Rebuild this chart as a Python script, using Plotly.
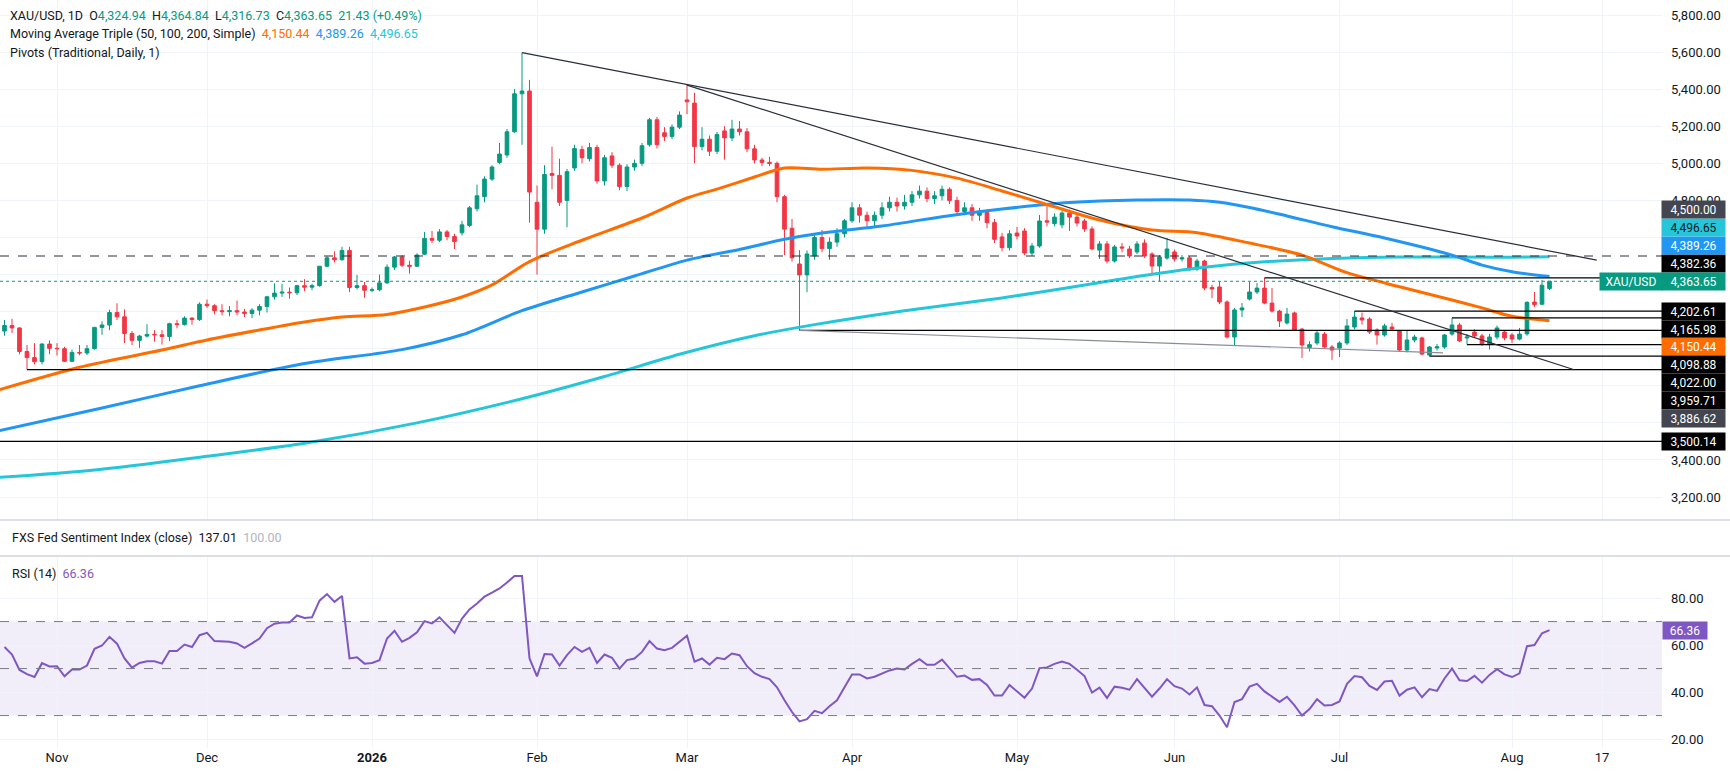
import pandas as pd
import plotly.graph_objects as go

# daily bars: weekdays, no bar on Christmas day
dates = pd.bdate_range("2025-10-23", "2026-08-10")
dates = dates[dates != pd.Timestamp("2025-12-25")]

opens = [
    4095, 4125, 4112, 3985, 3952, 3930, 4025, 4002, 4000, 3932,
    3980, 3977, 4000, 4115, 4128, 4195, 4172, 4082, 4045, 4068,
    4077, 4075, 4066, 4135, 4130, 4165, 4157, 4240, 4232, 4205,
    4200, 4205, 4198, 4190, 4208, 4228, 4280, 4300, 4305, 4302,
    4340, 4332, 4340, 4445, 4490, 4480, 4530, 4330, 4340, 4315,
    4318, 4355, 4440, 4495, 4450, 4445, 4510, 4595, 4585, 4630,
    4605, 4625, 4665, 4755, 4820, 4915, 5005, 5045, 5170, 5375,
    5390, 4790, 4645, 4945, 4935, 4800, 4975, 5075, 5025, 5085,
    4905, 5040, 4990, 4875, 4980, 5000, 5100, 5235, 5165, 5145,
    5195, 5342, 5325, 5090, 5130, 5065, 5175, 5137, 5185, 5170,
    5078, 5018, 5005, 5000, 4820, 4650, 4457, 4398, 4500, 4600,
    4540, 4575, 4620, 4690, 4760, 4720, 4690, 4720, 4760, 4790,
    4770, 4790, 4830, 4850, 4810, 4825, 4860, 4800, 4740, 4760,
    4720, 4735, 4680, 4603, 4545, 4624, 4635, 4516, 4554, 4690,
    4675, 4668, 4732, 4710, 4689, 4646, 4532, 4565, 4473, 4549,
    4538, 4522, 4570, 4511, 4446, 4489, 4522, 4484, 4490, 4430,
    4473, 4330, 4333, 4252, 4063, 4209, 4268, 4306, 4327, 4246,
    4203, 4139, 4193, 4106, 4005, 4031, 4079, 4009, 4004, 4031,
    4117, 4166, 4160, 4101, 4074, 4117, 4095, 3993, 4047, 4058,
    3966, 4004, 4009, 4079, 4128, 4058, 4090, 4069, 4022, 4063,
    4090, 4074, 4052, 4080, 4252, 4240, 4324.94,
]
highs = [
    4155, 4161, 4115, 4020, 4030, 4030, 4045, 4030, 4010, 3995,
    4020, 4020, 4118, 4148, 4210, 4245, 4212, 4095, 4075, 4132,
    4100, 4100, 4140, 4155, 4175, 4170, 4250, 4265, 4240, 4240,
    4230, 4260, 4215, 4218, 4240, 4285, 4353, 4350, 4330, 4345,
    4375, 4350, 4445, 4498, 4525, 4550, 4550, 4398, 4360, 4330,
    4400, 4455, 4500, 4505, 4475, 4515, 4630, 4635, 4645, 4640,
    4620, 4690, 4770, 4885, 4930, 4990, 5110, 5185, 5400, 5597,
    5450, 4880, 4990, 5090, 5025, 4970, 5100, 5095, 5110, 5100,
    5045, 5060, 5000, 4995, 5020, 5110, 5245, 5250, 5195, 5210,
    5280, 5422, 5380, 5195, 5150, 5170, 5200, 5235, 5228, 5190,
    5100, 5030, 5035, 5010, 4830, 4700, 4532, 4530, 4620, 4640,
    4600, 4650, 4700, 4790, 4780, 4740, 4740, 4790, 4820, 4815,
    4830, 4850, 4880, 4870, 4850, 4880, 4870, 4820, 4790, 4780,
    4760, 4750, 4700, 4625, 4640, 4657, 4650, 4570, 4721, 4775,
    4730, 4745, 4750, 4720, 4700, 4660, 4580, 4580, 4560, 4570,
    4555, 4580, 4590, 4520, 4505, 4597, 4535, 4505, 4500, 4485,
    4480, 4345, 4360, 4260, 4220, 4246, 4360, 4354, 4382.36, 4327,
    4210, 4220, 4200, 4110, 4040, 4095, 4090, 4020, 4040, 4160,
    4202.61, 4195, 4170, 4110, 4135, 4139, 4100, 4101, 4075, 4065,
    4015, 4025, 4080, 4165.98, 4140, 4080, 4105, 4080, 4080, 4125,
    4100, 4085, 4112, 4256, 4306, 4371, 4364.84,
]
lows = [
    4070, 4085, 3970, 3886.62, 3915, 3915, 3970, 3963, 3928, 3930,
    3965, 3965, 3995, 4075, 4100, 4155, 4030, 4020, 4005, 4060,
    4038, 4022, 4040, 4110, 4125, 4130, 4150, 4220, 4185, 4180,
    4175, 4180, 4170, 4165, 4180, 4195, 4265, 4280, 4270, 4290,
    4310, 4315, 4335, 4440, 4465, 4475, 4305, 4320, 4275, 4305,
    4310, 4350, 4425, 4440, 4405, 4440, 4505, 4570, 4575, 4585,
    4538, 4610, 4655, 4740, 4790, 4905, 4995, 5030, 5165, 5100,
    4680, 4400, 4620, 4860, 4770, 4655, 4960, 5000, 5010, 4890,
    4880, 4975, 4855, 4850, 4960, 4985, 5090, 5080, 5120, 5130,
    5185, 5265, 5000, 5070, 5040, 5050, 5020, 5120, 5150, 5060,
    5000, 4985, 4985, 4790, 4505, 4470, 4098.88, 4305, 4480, 4520,
    4480, 4550, 4600, 4680, 4680, 4650, 4660, 4700, 4740, 4740,
    4750, 4770, 4810, 4790, 4780, 4800, 4780, 4720, 4720, 4690,
    4690, 4650, 4570, 4525, 4530, 4590, 4505, 4500, 4545, 4660,
    4660, 4650, 4635, 4660, 4630, 4530, 4484, 4460, 4465, 4520,
    4490, 4510, 4490, 4398, 4365, 4480, 4470, 4470, 4420, 4420,
    4315, 4273, 4240, 4055, 4020, 4171, 4260, 4295, 4240, 4195,
    4117, 4130, 4095, 3950, 3985, 4020, 4000, 3940, 3955, 4020,
    4105, 4130, 4080, 4022, 4065, 4095, 3985, 3980, 4035, 3965,
    3959.71, 3990, 4000, 4070, 4035, 4022, 4060, 4015, 3995, 4050,
    4045, 4031, 4045, 4070, 4225, 4235, 4316.73,
]
closes = [
    4125, 4112, 3985, 3952, 3930, 4025, 4002, 4000, 3932, 3980,
    3977, 4000, 4115, 4128, 4195, 4172, 4082, 4045, 4068, 4077,
    4075, 4066, 4135, 4130, 4165, 4157, 4240, 4232, 4205, 4200,
    4205, 4198, 4190, 4208, 4228, 4280, 4300, 4305, 4302, 4340,
    4332, 4340, 4445, 4490, 4480, 4530, 4330, 4340, 4315, 4318,
    4355, 4440, 4495, 4450, 4445, 4505, 4595, 4585, 4630, 4605,
    4578, 4668, 4760, 4825, 4915, 4980, 5050, 5170, 5375, 5390,
    4845, 4645, 4940, 4935, 4790, 4955, 5080, 5030, 5085, 4905,
    5030, 4990, 4875, 4980, 5000, 5095, 5235, 5100, 5145, 5195,
    5260, 5332, 5090, 5130, 5065, 5155, 5137, 5185, 5170, 5078,
    5018, 5005, 5000, 4820, 4645, 4490, 4398, 4511, 4600, 4540,
    4575, 4620, 4690, 4760, 4720, 4690, 4720, 4760, 4790, 4770,
    4790, 4830, 4850, 4810, 4825, 4860, 4800, 4740, 4760, 4720,
    4735, 4680, 4590, 4545, 4620, 4608, 4516, 4554, 4689, 4683,
    4710, 4732, 4710, 4678, 4646, 4538, 4565, 4473, 4549, 4543,
    4500, 4565, 4500, 4446, 4495, 4538, 4484, 4490, 4430, 4473,
    4327, 4322, 4252, 4063, 4209, 4220, 4306, 4327, 4246, 4203,
    4149, 4187, 4101, 4020, 4022, 4085, 4009, 3993, 4031, 4123,
    4171, 4155, 4090, 4074, 4123, 4106, 3993, 4047, 4063, 3971,
    4009, 4010, 4074, 4128, 4042, 4063, 4069, 4025, 4063, 4112,
    4058, 4052, 4079, 4250, 4238, 4342.22, 4363.65,
]

rsi = [
    59.2, 56, 49.4, 47.6, 46.4, 52.3, 50.9, 51, 46.7, 49.6,
    49.6, 51.3, 58.4, 59.8, 63.5, 60.6, 54.3, 50.4, 52.4, 53.1,
    53.1, 52.1, 57.5, 57.5, 60.2, 59.2, 64.2, 65.2, 61.7, 61.4,
    61.4, 60.7, 58.8, 60.7, 62.8, 67.2, 69.1, 69.6, 69.6, 72.6,
    71.5, 71.8, 78.9, 81.7, 78.4, 80.9, 54.3, 54.8, 52.1, 52.4,
    53.6, 62.8, 66.1, 61.4, 63.1, 65.4, 70.2, 69.2, 71.8, 68.5,
    65.2, 71.3, 75.2, 77.7, 80.6, 82.3, 84.1, 86.6, 89.4, 89.4,
    54.3, 46.7, 56.2, 56, 51.3, 55.7, 59.2, 57.1, 58.8, 52.4,
    56, 54.6, 50, 53.6, 54.3, 57.1, 61.7, 58.5, 57.8, 58.8,
    61.4, 64, 52.9, 54.3, 51.7, 54.6, 54, 56.4, 55.7, 51,
    48, 46.5, 45.5, 42, 36.5, 31.5, 27.5, 28.5, 32, 31,
    34, 36.5, 42, 47.5, 47.5, 45.8, 46.5, 48, 49.2, 50,
    49.6, 52, 54, 51.6, 51.6, 53.8, 50, 46.5, 47, 45.2,
    45.5, 43, 38.5, 38.5, 43, 40.5, 37.6, 41.5, 50.2, 50.5,
    52, 53, 52, 49.5, 46.8, 39.8, 41.9, 37.5, 42.3, 41.8,
    41, 45.5, 41.5, 38, 41.5, 45.5, 42.5, 41.5, 39, 42,
    34.5, 34, 30, 25, 35.8, 37, 42.3, 43.5, 40.3, 38,
    35.8, 38, 34.3, 30, 32.8, 37, 34.3, 34.5, 36, 43.5,
    46.8, 46.3, 42.6, 40.9, 44.5, 44.8, 38.5, 41, 42, 37.8,
    41.3, 40.5, 45.8, 50, 45, 44.7, 46.9, 44, 47.3, 49.7,
    47.5, 46.4, 48, 59.5, 60, 65, 66.36,
]

# moving averages at these bar numbers
ma50_bar = [-1, 10, 21, 27, 34, 40, 45, 51, 56, 61, 65, 70, 77, 85, 91, 95, 100, 104,
            109, 115, 121, 127, 133, 139, 146, 153, 159, 166, 173, 179, 186, 193, 197, 201, 206]
ma50 = [3775, 3900, 3993, 4047, 4101, 4144, 4171, 4185, 4225, 4279, 4344, 4470, 4585, 4705, 4813, 4861, 4926, 4975,
        4968, 4975, 4962, 4920, 4851, 4778, 4694, 4640, 4626, 4570, 4505, 4410, 4334, 4263, 4220, 4175, 4150.44]
ma100_bar = [-1, 13, 26, 40, 53, 61, 69, 77, 84, 91, 98, 104, 109, 117, 125, 133, 142, 151,
             158, 162, 166, 171, 177, 184, 193, 197, 201, 206]
ma100 = [3555, 3680, 3800, 3920, 3995, 4075, 4205, 4306, 4392, 4478, 4535, 4590, 4624, 4662, 4712, 4753, 4788, 4802,
         4802, 4790, 4762, 4716, 4658, 4597, 4505, 4451, 4415, 4389.26]
ma200_bar = [-1, 12, 27, 40, 55, 69, 80, 90, 100, 108, 120, 133, 142, 151, 160, 168, 177, 186, 199, 206]
ma200 = [3305, 3346, 3420, 3490, 3600, 3730, 3850, 3970, 4070, 4130, 4205, 4274, 4330, 4390, 4440, 4469, 4487, 4495,
         4493, 4496.65]

# drawn horizontal levels and the bar they start from
level_prices = [4382.36, 4202.61, 4165.98, 4098.88, 4022.00, 3959.71, 3886.62, 3500.14]
level_start = [168, 180, 193, 106, 195, 190, 3, -1]
dashed_level = 4500.00

# trend lines (bar, price) -> (bar, price)
trend_upper = [(69, 5597.0), (212.3, 4478.0)]
trend_mid = [(91, 5422.0), (209.3, 3886.62)]
trend_low = [(106, 4098.88), (191.8, 3978.0)]

price_ticks = list(range(3200, 5801, 200))
rsi_ticks = [20, 40, 60, 80]

fxs_value = 137.01
fxs_base = 100.00

GREEN = "#089981"
RED = "#F23645"
ORANGE = "#FF6D00"
BLUE = "#2196F3"
CYAN = "#26C6DA"
PURPLE = "#7E57C2"
TXT = "#131722"
GRID = "#F0F3FA"
FONT = "Roboto, sans-serif"

PLOT_W, PLOT_H = 1662, 748
MAIN_H = 520
RSI_TOP = 556
X_MIN, X_MAX = -0.6, 221.0
P_BOT, P_TOP = 3076.0, 5881.0
R_BOT, R_TOP = 16.2, 97.9


def paper_x(px):
    return px / PLOT_W


def paper_y(py):
    return 1 - py / PLOT_H


def price_px(p):
    return (P_TOP - p) / (P_TOP - P_BOT) * MAIN_H


idx = list(range(len(dates)))

# month ticks for the date axis
tick_vals, tick_text = [], []
for i in range(1, len(dates)):
    if dates[i].month != dates[i - 1].month:
        tick_vals.append(i)
        tick_text.append("<b>2026</b>" if dates[i].month == 1 else dates[i].strftime("%b"))
tick_vals.append(idx[-1] + (pd.Timestamp("2026-08-17") - dates[-1]).days)
tick_text.append("17")

fig = go.Figure()

fig.add_trace(go.Candlestick(
    x=idx, open=opens, high=highs, low=lows, close=closes,
    increasing=dict(line=dict(color=GREEN, width=1), fillcolor=GREEN),
    decreasing=dict(line=dict(color=RED, width=1), fillcolor=RED),
    whiskerwidth=0, hoverinfo="skip", xaxis="x", yaxis="y",
))

for bars, vals, col in [(ma200_bar, ma200, CYAN), (ma100_bar, ma100, BLUE), (ma50_bar, ma50, ORANGE)]:
    fig.add_trace(go.Scatter(x=bars, y=vals, mode="lines",
                             line=dict(color=col, width=3, shape="spline", smoothing=0.8),
                             hoverinfo="skip", xaxis="x", yaxis="y"))

fig.add_trace(go.Scatter(x=idx, y=rsi, mode="lines", line=dict(color=PURPLE, width=2),
                         hoverinfo="skip", xaxis="x2", yaxis="y2"))

shapes = []
# horizontal levels
for p, s in zip(level_prices, level_start):
    shapes.append(dict(type="line", xref="x", yref="y", x0=max(s, X_MIN), x1=X_MAX, y0=p, y1=p,
                       line=dict(color="#000000", width=1.2)))
shapes.append(dict(type="line", xref="x", yref="y", x0=X_MIN, x1=X_MAX, y0=dashed_level, y1=dashed_level,
                   line=dict(color="#2A2E39", width=1.2, dash="dash")))
shapes.append(dict(type="line", xref="x", yref="y", x0=X_MIN, x1=X_MAX, y0=closes[-1], y1=closes[-1],
                   line=dict(color=GREEN, width=1, dash="dot")))
# trend lines
for (a, b), col in [(trend_upper, "#2A2E39"), (trend_mid, "#2A2E39"), (trend_low, "#8A8D97")]:
    shapes.append(dict(type="line", xref="x", yref="y", x0=a[0], y0=a[1], x1=b[0], y1=b[1],
                       line=dict(color=col, width=1.2)))
# RSI band and guides
shapes.append(dict(type="rect", xref="x2", yref="y2", x0=X_MIN, x1=X_MAX, y0=30, y1=70,
                   fillcolor="rgba(126,87,194,0.1)", line=dict(width=0), layer="below"))
for lv in (70, 50, 30):
    shapes.append(dict(type="line", xref="x2", yref="y2", x0=X_MIN, x1=X_MAX, y0=lv, y1=lv,
                       line=dict(color="#787B86", width=1, dash="dash")))
# pane separators
for py in (MAIN_H, RSI_TOP):
    shapes.append(dict(type="line", xref="paper", yref="paper", x0=0, x1=1730 / PLOT_W,
                       y0=paper_y(py), y1=paper_y(py), line=dict(color="#D1D4DC", width=1.5)))

annotations = []


def legend(px, py, text):
    annotations.append(dict(xref="paper", yref="paper", x=paper_x(px), y=paper_y(py), xanchor="left",
                            yanchor="middle", showarrow=False, text=text, font=dict(family=FONT, size=12.5, color=TXT)))


def fmt(v):
    return f"{v:,.2f}"


sp = "\u00a0\u00a0"
chg = closes[-1] - closes[-2]
pct = chg / closes[-2] * 100
g = f"<span style='color:{GREEN}'>"
legend(8, 16, f"XAU/USD, 1D{sp}O{g}{fmt(opens[-1])}</span>{sp}H{g}{fmt(highs[-1])}</span>{sp}"
              f"L{g}{fmt(lows[-1])}</span>{sp}C{g}{fmt(closes[-1])}</span>{sp}{g}{chg:.2f} ({pct:+.2f}%)</span>")
legend(8, 34, f"Moving Average Triple (50, 100, 200, Simple){sp}<span style='color:{ORANGE}'>{fmt(ma50[-1])}</span>{sp}"
              f"<span style='color:{BLUE}'>{fmt(ma100[-1])}</span>{sp}<span style='color:{CYAN}'>{fmt(ma200[-1])}</span>")
legend(8, 53, "Pivots (Traditional, Daily, 1)")
legend(10, 537, f"FXS Fed Sentiment Index (close){sp}{fxs_value:.2f}{sp}<span style='color:#B2B5BE'>{fxs_base:.2f}</span>")
legend(10, 573, f"RSI (14){sp}<span style='color:{PURPLE}'>{rsi[-1]:.2f}</span>")

# price scale labels, stacked around the last price like the terminal does
axis_labels = [
    (dashed_level, "#434651", "white"),
    (ma200[-1], CYAN, "#131722"),
    (ma100[-1], BLUE, "white"),
    (level_prices[0], "#000000", "white"),
    (level_prices[1], "#000000", "white"),
    (level_prices[2], "#000000", "white"),
    (ma50[-1], ORANGE, "white"),
    (level_prices[3], "#000000", "white"),
    (level_prices[4], "#000000", "white"),
    (level_prices[5], "#000000", "white"),
    (level_prices[6], "#434651", "white"),
    (level_prices[7], "#000000", "white"),
]
STEP = 17.9
last_y = price_px(closes[-1])
above = sorted([l for l in axis_labels if l[0] > closes[-1]], key=lambda l: l[0])
below = sorted([l for l in axis_labels if l[0] < closes[-1]], key=lambda l: -l[0])
placed = []
prev = last_y
for lab in above:
    prev = min(price_px(lab[0]), prev - STEP)
    placed.append((lab, prev))
prev = last_y
for lab in below:
    prev = max(price_px(lab[0]), prev + STEP)
    placed.append((lab, prev))

TAG_RIGHT = 1726


def tag(right_px, py, text, bg, fg, w=59):
    annotations.append(dict(xref="paper", yref="paper", x=paper_x(right_px), y=paper_y(py), xanchor="right",
                            yanchor="middle", showarrow=False, text=text, bgcolor=bg, width=w, height=13,
                            borderpad=2, align="center", font=dict(family=FONT, size=12, color=fg)))


for (p, bg, fg), py in placed:
    tag(TAG_RIGHT, py, fmt(p), bg, fg)
tag(TAG_RIGHT - 63, last_y, "XAU/USD", GREEN, "white", w=58)
tag(TAG_RIGHT, last_y, fmt(closes[-1]), GREEN, "white")
rsi_py = RSI_TOP + (R_TOP - rsi[-1]) / (R_TOP - R_BOT) * (PLOT_H - RSI_TOP)
tag(TAG_RIGHT - 18, rsi_py, f"{rsi[-1]:.2f}", PURPLE, "white", w=40)

# scale numbers that sit under a tag are hidden, as on the terminal
tag_ys = [py for _, py in placed] + [last_y]
price_text = ["" if any(abs(price_px(v) - ty) < 9 for ty in tag_ys) else fmt(v) for v in price_ticks]
rsi_text = ["" if abs(RSI_TOP + (R_TOP - v) / (R_TOP - R_BOT) * (PLOT_H - RSI_TOP) - rsi_py) < 9 else f"{v:.2f}"
            for v in rsi_ticks]

fig.update_layout(
    width=1730, height=775,
    margin=dict(l=0, r=68, t=0, b=27),
    paper_bgcolor="white", plot_bgcolor="white",
    showlegend=False,
    shapes=shapes, annotations=annotations,
    font=dict(family=FONT, size=13, color=TXT),
    xaxis=dict(domain=[0, 1], range=[X_MIN, X_MAX], anchor="y", tickvals=tick_vals, showticklabels=False,
               showgrid=True, gridcolor=GRID, zeroline=False, rangeslider=dict(visible=False), ticks=""),
    yaxis=dict(domain=[1 - MAIN_H / PLOT_H, 1], range=[P_BOT, P_TOP], side="right", anchor="x",
               tickvals=price_ticks, ticktext=price_text, showgrid=True, gridcolor=GRID,
               zeroline=False, ticks="", ticklabelstandoff=8, tickfont=dict(size=13, color=TXT)),
    xaxis2=dict(domain=[0, 1], range=[X_MIN, X_MAX], anchor="y2", tickvals=tick_vals, ticktext=tick_text,
                showgrid=True, gridcolor=GRID, zeroline=False, ticks="", tickfont=dict(size=13, color=TXT)),
    yaxis2=dict(domain=[0, 1 - RSI_TOP / PLOT_H], range=[R_BOT, R_TOP], side="right", anchor="x2",
                tickvals=rsi_ticks, ticktext=rsi_text, showgrid=True, gridcolor=GRID, zeroline=False,
                ticks="", ticklabelstandoff=8, tickfont=dict(size=13, color=TXT)),
)

# the page's default body margin would push the chart 8px right and down
fig.write_html("out.html", config={"displayModeBar": False},
               post_script="document.body.style.margin='0';document.body.style.overflow='hidden';")
